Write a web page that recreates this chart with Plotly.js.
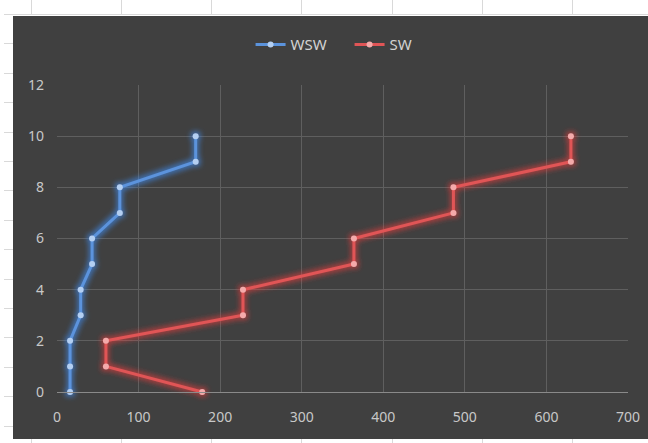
<!DOCTYPE html>
<html>
<head>
<meta charset="utf-8">
<script src="https://cdn.plot.ly/plotly-3.0.1.min.js"></script>
<style>
  html, body { margin: 0; padding: 0; background: #ffffff; }
  body { width: 648px; height: 443px; position: relative; overflow: hidden; }
  #sheet { position: absolute; left: 0; top: 0; width: 648px; height: 443px; }
  .hl { position: absolute; height: 1px; background: #d9d9d9; }
  .vl { position: absolute; width: 1px; background: #d9d9d9; }
  #chart { position: absolute; left: 13px; top: 16px; width: 635px; height: 423px; }
  #fx { position: absolute; width: 0; height: 0; overflow: hidden; }
</style>
</head>
<body>
<div id="sheet"></div>
<svg id="fx" aria-hidden="true">
  <defs>
    <filter id="glow-wsw" x="-30%" y="-30%" width="160%" height="160%">
      <feMorphology in="SourceAlpha" operator="dilate" radius="1.8" result="d"/>
      <feGaussianBlur in="d" stdDeviation="2.8" result="b"/>
      <feFlood flood-color="#3f8cf0" flood-opacity="0.6"/>
      <feComposite in2="b" operator="in" result="g"/>
      <feMerge><feMergeNode in="g"/><feMergeNode in="SourceGraphic"/></feMerge>
    </filter>
    <filter id="glow-sw" x="-30%" y="-30%" width="160%" height="160%">
      <feMorphology in="SourceAlpha" operator="dilate" radius="1.8" result="d"/>
      <feGaussianBlur in="d" stdDeviation="2.8" result="b"/>
      <feFlood flood-color="#f03c3c" flood-opacity="0.55"/>
      <feComposite in2="b" operator="in" result="g"/>
      <feMerge><feMergeNode in="g"/><feMergeNode in="SourceGraphic"/></feMerge>
    </filter>
  </defs>
</svg>
<div id="chart"></div>
<script>
// Levels (vertical axis) and horizontal values for each series
const levels = [0, 1, 2, 3, 4, 5, 6, 7, 8, 9, 10];
const wswValues = [16, 16, 16, 29, 29, 43, 43, 77, 77, 170, 170];
const swValues = [178, 60, 60, 228, 228, 364, 364, 486, 486, 630, 630];
const seriesNames = ['WSW', 'SW'];
const xTicks = [0, 100, 200, 300, 400, 500, 600, 700];
const yTicks = [0, 2, 4, 6, 8, 10, 12];

// Worksheet cell borders peeking out around the chart
(function drawSheet() {
  const sheet = document.getElementById('sheet');
  const add = (cls, css) => {
    const d = document.createElement('div');
    d.className = cls;
    Object.assign(d.style, css);
    sheet.appendChild(d);
  };
  add('hl', { left: '4px', top: '14px', width: '644px' });
  for (let k = 0; k < 7; k++) {
    const x = Math.round(30.7 + 90.2 * k) + 'px';
    add('vl', { left: x, top: '0px', height: '14px' });
    add('vl', { left: x, top: '439px', height: '4px' });
  }
  for (let k = 1; k < 15; k++) {
    add('hl', { left: '4px', top: Math.round(14 + 29.4 * k) + 'px', width: '9px' });
  }
})();

const font = "'Noto Sans', 'Open Sans', sans-serif";

const traces = [
  {
    name: seriesNames[0], x: wswValues, y: levels,
    type: 'scatter', mode: 'lines+markers', cliponaxis: false,
    line: { color: '#5b93dc', width: 3 },
    marker: { color: '#b3cff2', size: 6 }
  },
  {
    name: seriesNames[1], x: swValues, y: levels,
    type: 'scatter', mode: 'lines+markers', cliponaxis: false,
    line: { color: '#e05556', width: 3 },
    marker: { color: '#f4aaaa', size: 6 }
  }
];

const layout = {
  width: 635, height: 423,
  margin: { l: 44, r: 20, t: 69, b: 47 },
  paper_bgcolor: '#404040',
  plot_bgcolor: '#404040',
  font: { family: font, size: 14, color: '#c8c8c8' },
  showlegend: true,
  legend: {
    orientation: 'h', x: 0.339, xanchor: 'left',
    yref: 'container', y: 0.932, yanchor: 'middle',
    entrywidth: 54, entrywidthmode: 'pixels',
    font: { family: font, size: 15, color: '#d2d2d2' },
    bgcolor: 'rgba(0,0,0,0)', itemclick: false
  },
  xaxis: {
    range: [0, 700], tickvals: xTicks, ticktext: xTicks.map(String),
    showgrid: true, gridcolor: '#5f5f5f', gridwidth: 1,
    zeroline: false, showline: true, linecolor: '#8a8a8a', linewidth: 1,
    ticks: '', ticklabelstandoff: 12, fixedrange: true
  },
  yaxis: {
    range: [0, 12], tickvals: yTicks, ticktext: yTicks.map(String),
    showgrid: true, gridcolor: '#5f5f5f', gridwidth: 1,
    zeroline: false, showline: false,
    ticks: '', ticklabelstandoff: 12, fixedrange: true
  }
};

Plotly.newPlot('chart', traces, layout, { displayModeBar: false, staticPlot: true }).then(() => {
  // soft halo round each series, in its own colour
  const groups = document.querySelectorAll('#chart .scatterlayer .trace');
  const glows = ['url(#glow-wsw)', 'url(#glow-sw)'];
  groups.forEach((g, i) => { if (glows[i]) g.setAttribute('filter', glows[i]); });
});
</script>
</body>
</html>
